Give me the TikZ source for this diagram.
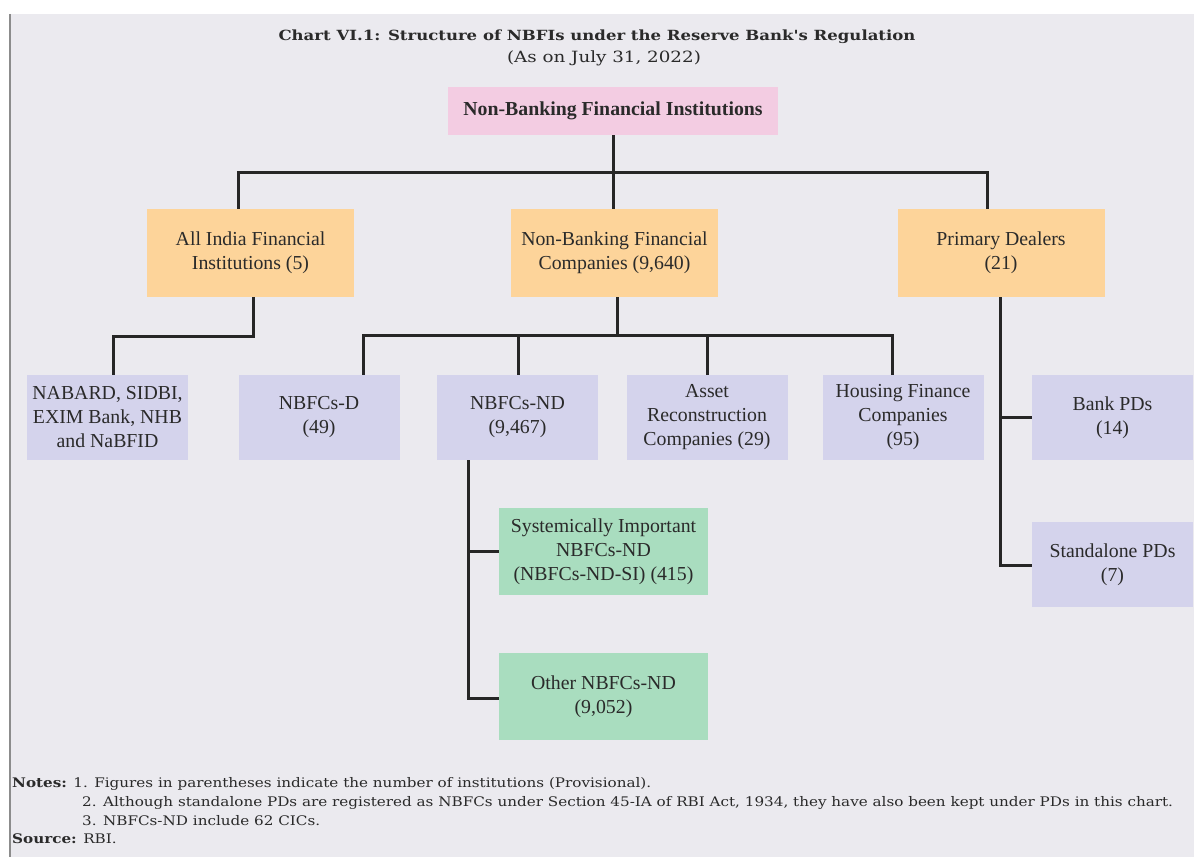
\documentclass[tikz,border=0pt]{standalone}
\usepackage{fontspec}
\setmainfont{Liberation Serif}
\newfontfamily\notefont[FakeStretch=1.18]{DejaVu Serif}
\newfontfamily\smallnotefont[FakeStretch=1.15]{DejaVu Serif}
\usepackage{xcolor}
\usetikzlibrary{positioning}

\definecolor{chartbg}{HTML}{EBEAEF}
\definecolor{rootpink}{HTML}{F3CCE2}
\definecolor{tierorange}{HTML}{FDD49A}
\definecolor{subviolet}{HTML}{D4D3EC}
\definecolor{leafgreen}{HTML}{A9DDBF}
\definecolor{inkgray}{HTML}{2A2A2A}

\begin{document}
\begin{tikzpicture}[
  x=1pt, y=-1pt,
  box/.style={
    inner sep=0pt,
    align=center,
    text=inkgray,
    font=\fontsize{19.8}{24}\selectfont
  },
  rootbox/.style={box, fill=rootpink, minimum width=330pt, minimum height=48pt,
    font=\fontsize{19.8}{22}\selectfont\bfseries},
  tier/.style={box, fill=tierorange, minimum width=207pt, minimum height=88pt},
  subbox/.style={box, fill=subviolet, minimum width=161pt, minimum height=85pt},
  leaf/.style={box, fill=leafgreen, minimum width=209pt, minimum height=87pt},
  note/.style={anchor=west, inner sep=0pt, text=inkgray, font=\smallnotefont\fontsize{13.2}{15}\selectfont},
  link/.style={line width=3pt, draw=black!85}
]
% Canvas
\fill[white] (0,0) rectangle (1194,859);
\fill[chartbg] (10,14) rectangle (1194,857);
\draw[line width=1.6pt, draw=black!45] (10,14) -- (10,857);
\useasboundingbox (0,0) rectangle (1194,859);

% Title
\node[text=inkgray, font=\notefont\fontsize{14}{16}\selectfont\bfseries] (title) at (597,37)
  {Chart VI.1: Structure of NBFIs under the Reserve Bank's Regulation};
\node[text=inkgray, font=\notefont\fontsize{15.5}{17}\selectfont] (date) at (604,58)
  {(As on July 31, 2022)};

% Boxes
\node[rootbox] (nbfi) at (613,111) {Non-Banking Financial Institutions};

\node[tier] (aifi) at (250.5,253) {All India Financial\\Institutions (5)};
\node[tier] (nbfc) at (614.5,253) {Non-Banking Financial\\Companies (9,640)};
\node[tier] (pd)   at (1001,253)  {Primary Dealers\\(21)};

\node[subbox] (nabard) at (107.5,417.5) {NABARD, SIDBI,\\EXIM Bank, NHB\\and NaBFID};
\node[subbox] (nbfcd)  at (319,417.5)   {NBFCs-D\\(49)};
\node[subbox] (nbfcnd) at (517.5,417.5) {NBFCs-ND\\(9,467)};
\node[subbox] (arc)    at (707,417.5)   {Asset\\Reconstruction\\Companies (29)};
\node[subbox] (hfc)    at (903,417.5)   {Housing Finance\\Companies\\(95)};
\node[subbox] (bankpd) at (1112.5,417.5) {Bank PDs\\(14)};
\node[subbox] (standpd) at (1112.5,564.5) {Standalone PDs\\(7)};

\node[leaf] (ndsi)  at (603.5,551.5) {Systemically Important\\NBFCs-ND\\(NBFCs-ND-SI) (415)};
\node[leaf] (ndoth) at (603.5,696.5) {Other NBFCs-ND\\(9,052)};

% Bus points
\coordinate (bustop) at (613,172);
\coordinate (busaifi) at (113,336);
\coordinate (busnbfc) at (617,335);
\coordinate (buspd) at (1000,565);
\coordinate (busnd) at (468,698);

% Connections
\draw[link] (nbfi) -- (bustop);
\draw[link] ([xshift=-12.5pt]aifi.north) |- ([xshift=-14pt]pd.north |- bustop) -- ([xshift=-14pt]pd.north);
\draw[link] (bustop) -- (bustop |- nbfc.north);
\draw[link] ([xshift=2.5pt]aifi.south) |- (busaifi) -- (busaifi |- nabard.north);
\draw[link] (nbfc.south -| busnbfc) -- (busnbfc);
\draw[link] ([xshift=44pt]nbfcd.north) |- ([xshift=-11pt]hfc.north |- busnbfc) -- ([xshift=-11pt]hfc.north);
\draw[link] ([xshift=0.5pt]nbfcnd.north) -- ([xshift=0.5pt]nbfcnd.north |- busnbfc);
\draw[link] (arc.north) -- (arc.north |- busnbfc);
\draw[link] (pd.south -| buspd) -- (buspd) -- (standpd.west |- buspd);
\draw[link] (bankpd.west) -- (bankpd.west -| buspd);
\draw[link] (nbfcnd.south -| busnd) -- (busnd) -- (ndoth.west |- busnd);
\draw[link] (ndsi.west) -- (ndsi.west -| busnd);

% Notes
\node[note] (note1) at (12,784) {\textbf{Notes:} 1. Figures in parentheses indicate the number of institutions (Provisional).};
\node[note] (note2) at (82,803) {2. Although standalone PDs are registered as NBFCs under Section 45-IA of RBI Act, 1934, they have also been kept under PDs in this chart.};
\node[note] (note3) at (82,821) {3. NBFCs-ND include 62 CICs.};
\node[note] (source) at (12,839) {\textbf{Source:} RBI.};
\end{tikzpicture}
\end{document}
